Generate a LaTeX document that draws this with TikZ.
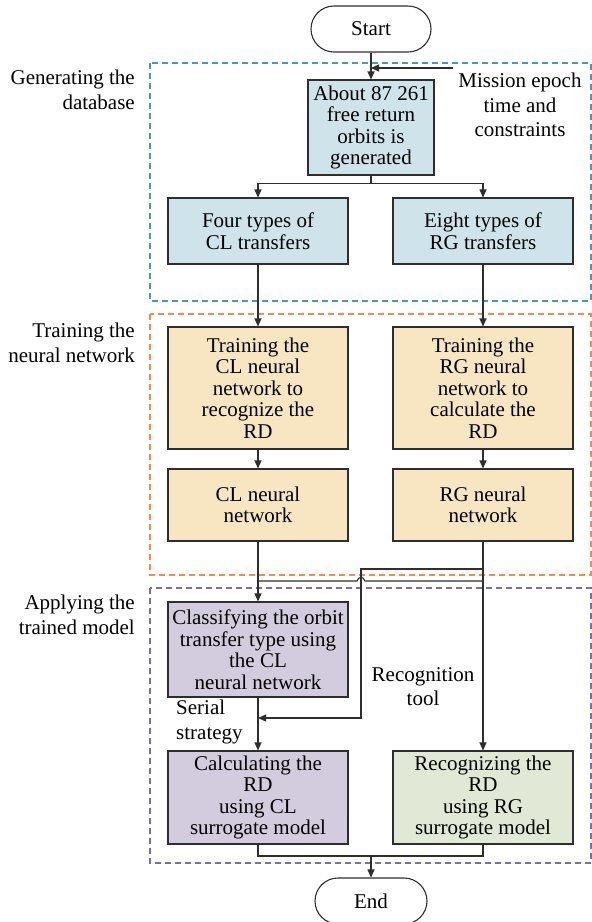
\documentclass[tikz,border=0pt]{standalone}
\usepackage{fontspec}
\setmainfont{Liberation Serif}
\usetikzlibrary{arrows.meta}

\definecolor{linegray}{HTML}{2E2E2E}
\definecolor{dbblue}{HTML}{CFE4EA}
\definecolor{nnorange}{HTML}{F8E6C3}
\definecolor{appurple}{HTML}{D3CCDE}
\definecolor{apgreen}{HTML}{E1E8D6}
\definecolor{dbframe}{HTML}{4A9BA8}
\definecolor{nnframe}{HTML}{F08C50}
\definecolor{apframe}{HTML}{786EAA}

\newcommand{\boxfont}{\fontsize{21}{21.5}\selectfont}
\newcommand{\lblfont}{\fontsize{21}{24.5}\selectfont}

\tikzset{
  box/.style={draw=linegray, line width=1.1pt, minimum width=180pt, inner sep=0pt, align=center, font=\boxfont},
  term/.style={draw=linegray, line width=1.1pt, rounded corners=23pt, inner sep=0pt, font=\boxfont},
  lbl/.style={inner sep=0pt, font=\lblfont},
  frame/.style={line width=1.1pt, dash pattern=on 6pt off 4pt},
  link/.style={draw=linegray, line width=1.1pt},
  arr/.style={link, -{Triangle[length=8pt,width=7pt]}}
}

\begin{document}
\begin{tikzpicture}[x=1pt,y=-1pt]
\useasboundingbox (0,0) rectangle (592,922);

\draw[frame,dbframe] (150,63) rectangle (591,301);
\draw[frame,nnframe] (150,314) rectangle (591,575);
\draw[frame,apframe] (150,588) rectangle (591,863);

\node[lbl,anchor=north east,align=right] (gen) at (135,70) {Generating the\\database};
\node[lbl,anchor=north east,align=right] (train) at (135,323) {Training the\\neural network};
\node[lbl,anchor=north east,align=right] (apply) at (135,595) {Applying the\\trained model};

\node[term,minimum width=120pt,minimum height=46pt] (start) at (371,29) {Start};
\node[box,fill=dbblue,minimum width=126pt,minimum height=95pt] (orbits) at (371,127.5) {About 87 261\\free return\\orbits is\\generated};
\node[lbl,anchor=north,align=center] (mission) at (520,73) {Mission epoch\\time and\\constraints};

\node[box,fill=dbblue,minimum height=66pt] (cltype) at (258,231) {Four types of\\CL transfers};
\node[box,fill=dbblue,minimum height=66pt] (rgtype) at (483,231) {Eight types of\\RG transfers};

\node[box,fill=nnorange,minimum height=122pt] (cltrain) at (258,388) {Training the\\CL neural\\network to\\recognize the\\RD};
\node[box,fill=nnorange,minimum height=122pt] (rgtrain) at (483,388) {Training the\\RG neural\\network to\\calculate the\\RD};
\node[box,fill=nnorange,minimum height=72pt] (clnet) at (258,505) {CL neural\\network};
\node[box,fill=nnorange,minimum height=72pt] (rgnet) at (483,505) {RG neural\\network};

\node[box,fill=appurple,minimum height=95pt] (classify) at (258,649.5) {Classifying the orbit\\transfer type using\\the CL\\neural network};
\node[box,fill=appurple,minimum height=93pt] (clcalc) at (258,797.5) {Calculating the\\RD\\using CL\\surrogate model};
\node[box,fill=apgreen,minimum height=93pt] (rgrecog) at (483,797.5) {Recognizing the\\RD\\using RG\\surrogate model};
\node[term,minimum width=112pt,minimum height=46pt] (end) at (371,901) {End};

\node[lbl,anchor=north west,align=left] (serial) at (176,700) {Serial\\strategy};
\node[lbl,anchor=north,align=center] (tool) at (423,667) {Recognition\\tool};

\coordinate (mstart) at (453,68);
\coordinate (tap) at (483,569);
\coordinate (turn) at (361,569);
\coordinate (back) at (361,718);
\coordinate (join) at (258,581);
\coordinate (merge) at (371,856);

\draw[arr] (start) -- (orbits);
\draw[arr] (mstart) -- (mstart -| orbits);
\draw[arr] (orbits.south) -- ++(0,8) -| (cltype.north);
\draw[arr] (orbits.south) -- ++(0,8) -| (rgtype.north);
\draw[arr] (cltype) -- (cltrain);
\draw[arr] (rgtype) -- (rgtrain);
\draw[arr] (cltrain) -- (clnet);
\draw[arr] (rgtrain) -- (rgnet);
\draw[arr] (clnet) -- (classify);
\draw[arr] (rgnet) -- (rgrecog);
\draw[link] (join) -- (357,581) .. controls (359,576) and (363,576) .. (365,581) -- (join -| tap);
\draw[arr] (tap) -- (turn) -- (back) -- (back -| classify);
\draw[arr] (classify) -- (clcalc);
\draw[link] (clcalc.south) |- (merge) -| (rgrecog.south);
\draw[arr] (merge) -- (end);
\end{tikzpicture}
\end{document}
